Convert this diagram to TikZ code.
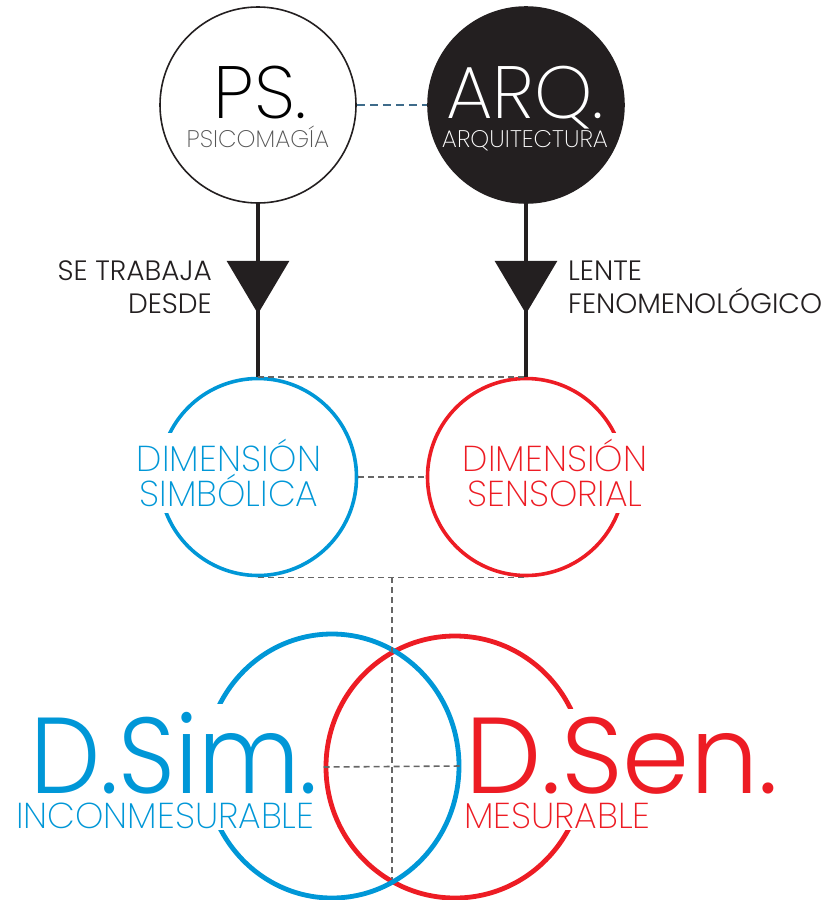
\documentclass[tikz,border=0pt]{standalone}
\usepackage{fontspec}
\setmainfont{Poppins}[UprightFont=* Light]
\newfontfamily\thinfont{Poppins}[UprightFont=* ExtraLight]
\newfontfamily\bigfont{Poppins}[UprightFont=* Light,FakeStretch=0.92]
\usetikzlibrary{arrows.meta,positioning,calc,shapes.geometric,decorations.markings}
\definecolor{inkblack}{HTML}{231F20}
\definecolor{simblue}{HTML}{0097D7}
\definecolor{senred}{HTML}{ED1C24}
\definecolor{dashgray}{HTML}{666666}
\definecolor{linkblue}{HTML}{3E6B8A}
\definecolor{subgray}{HTML}{555555}

\begin{document}
\begin{tikzpicture}[
  x=1pt,y=-1pt,
  every node/.style={inner sep=0pt},
  topcirc/.style={circle,draw=inkblack,line width=1.6pt,minimum size=196pt},
  midcirc/.style={circle,line width=3.6pt,minimum size=197pt},
  bigring/.style={ellipse,line width=4.8pt,minimum width=254pt,minimum height=264pt},
  title/.style={font=\thinfont\fontsize{74}{74}\selectfont,anchor=base},
  subtitle/.style={font=\thinfont\fontsize{24}{24}\selectfont,anchor=base},
  dimtext/.style={font=\thinfont\fontsize{36}{35}\selectfont,align=center,fill=white,inner sep=6pt},
  bigtext/.style={font=\bigfont\fontsize{108}{108}\selectfont,anchor=base west,fill=white,
    inner xsep=0pt,inner ysep=8pt,text depth=2pt},
  captext/.style={font=\thinfont\fontsize{36}{36}\selectfont,anchor=base west,fill=white,inner sep=2pt},
  note/.style={font=\fontsize{28}{33}\selectfont,text=inkblack},
  flow/.style={draw=inkblack,line width=3.5pt,postaction={decorate},
    decoration={markings,mark=at position 110pt with {\arrow{Triangle[length=53pt,width=62pt]}}}},
  link/.style={draw=dashgray,line width=1.6pt,dash pattern=on 6pt off 4pt}
]
  \useasboundingbox (0,0) rectangle (840,900);

  % top pair
  \node[topcirc] (ps) at (258,105) {};
  \node[topcirc,fill=inkblack] (arq) at (526,105) {};
  \node[title] (pstitle) at (260,118) {PS.};
  \node[subtitle,text=subgray] (pssub) at (258,147) {PSICOMAGÍA};
  \node[title,text=white] (arqtitle) at (525,118) {ARQ.};
  \node[subtitle,text=white] (arqsub) at (525,147) {ARQUITECTURA};
  \draw[draw=linkblue,line width=1.6pt,dash pattern=on 8pt off 5pt] (ps) -- (arq);

  % dimensions
  \node[midcirc,draw=simblue] (sim) at (258,477) {};
  \node[midcirc,draw=senred] (sen) at (526,477) {};
  \draw[flow] (ps.south) -- (sim.north);
  \draw[flow] (arq.south) -- (sen.north);
  \node[note,anchor=east,align=right] (worklbl) at (212,287) {SE TRABAJA\\DESDE};
  \node[note,anchor=west,align=left] (lenslbl) at (568,287) {LENTE\\FENOMENOLÓGICO};
  \draw[link] (sim.north) -- (sen.north);
  \draw[link] (sim) -- (sen);
  \draw[link] (sim.south) -- (sen.south);
  \node[dimtext,text=simblue] (simtext) at (229,473) {DIMENSIÓN\\SIMBÓLICA};
  \node[dimtext,text=senred] (sentext) at (555,473) {DIMENSIÓN\\SENSORIAL};

  % measurable / not
  \coordinate (hub) at ($(sim.south)!0.5!(sen.south)$);
  \coordinate (foot) at (392,879);
  \node[bigring,draw=senred,minimum width=258pt,minimum height=262pt] (dsen) at (455,767) {};
  \node[bigring,draw=simblue] (dsim) at (332,766) {};
  \draw[link] (hub) -- (foot);
  \draw[link] (dsen.west) -- (dsim.east);
  \node[bigtext,text=simblue] (simbig) at (30,793) {D.Sim.};
  \node[captext,text=simblue] (simcap) at (14,828) {INCONMESURABLE};
  \node[bigtext,font=\normalfont\fontsize{108}{108}\selectfont,text=senred] (senbig) at (465,793) {D.Sen.};
  \node[captext,text=senred] (sencap) at (462,828) {MESURABLE};
\end{tikzpicture}
\end{document}
